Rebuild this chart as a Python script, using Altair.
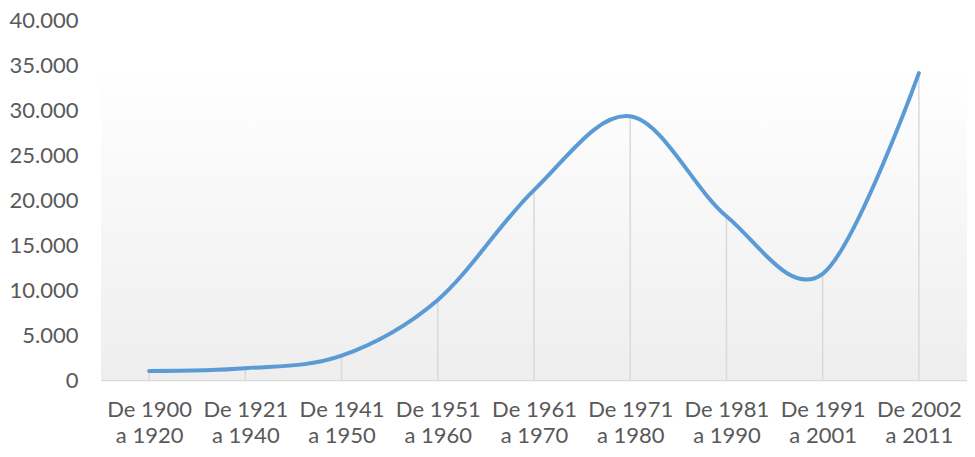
import json
import altair as alt
import pandas as pd

line1 = ["De 1900", "De 1921", "De 1941", "De 1951", "De 1961", "De 1971", "De 1981", "De 1991", "De 2002"]
line2 = ["a 1920", "a 1940", "a 1950", "a 1960", "a 1970", "a 1980", "a 1990", "a 2001", "a 2011"]
values = [1000, 1300, 2700, 8900, 21100, 29300, 18200, 11800, 34100]
y_ticks = [0, 5000, 10000, 15000, 20000, 25000, 30000, 35000, 40000]

df = pd.DataFrame({"idx": list(range(len(values))), "value": values})

W, H = 866, 360
XMIN, XMAX = -0.5, 8.5

label_arr = json.dumps([[a, b] for a, b in zip(line1, line2)])

x_scale = alt.Scale(domain=[XMIN, XMAX], nice=False, zero=False)
y_scale = alt.Scale(domain=[0, 40000], nice=False)

x_enc = alt.X(
    "idx:Q",
    scale=x_scale,
    axis=alt.Axis(
        values=list(range(len(values))),
        labelExpr=f"{label_arr}[datum.value]",
        title=None,
        grid=False,
        ticks=False,
        domain=True,
        domainColor="#d9d9d9",
        domainWidth=1.5,
        labelFont="Lato",
        labelFontSize=22,
        labelColor="#595959",
        labelPadding=19,
        labelLineHeight=26,
        labelBaseline="top",
        labelOverlap=False,
        labelFlush=False,
    ),
)
y_enc = alt.Y(
    "value:Q",
    scale=y_scale,
    axis=alt.Axis(
        values=y_ticks,
        labelExpr="replace(format(datum.value, ','), ',', '.')",
        title=None,
        grid=False,
        ticks=False,
        domain=False,
        labelFont="Lato",
        labelFontSize=22,
        labelColor="#595959",
        labelPadding=23,
    ),
)

bg = alt.Chart(pd.DataFrame({"a": [0]})).mark_rect(
    color=alt.Gradient(
        gradient="linear",
        stops=[alt.GradientStop(color="#ffffff", offset=0), alt.GradientStop(color="#eeeeee", offset=1)],
        x1=0, x2=0, y1=0, y2=1,
    )
).encode(
    x=alt.value(0), x2=alt.value(W),
    y=alt.Y(datum=35000, scale=y_scale), y2=alt.datum(0),
)

drops = alt.Chart(df).mark_rule(color="#d9d9d9", strokeWidth=1.5).encode(
    x=x_enc, y=y_enc, y2=alt.datum(0)
)

line = alt.Chart(df).mark_line(
    color="#5b9bd5", strokeWidth=4, interpolate="cardinal", strokeCap="round", strokeJoin="round"
).encode(x=x_enc, y=y_enc)

chart = alt.layer(bg, drops, line).properties(
    width=W, height=H,
    padding={"left": 93, "top": 12, "right": 0, "bottom": 69},
    autosize=alt.AutoSizeParams(type="none"),
    background="#ffffff",
).configure_view(stroke=None)

chart.save("out.html", embed_options={"renderer": "svg", "actions": False})
